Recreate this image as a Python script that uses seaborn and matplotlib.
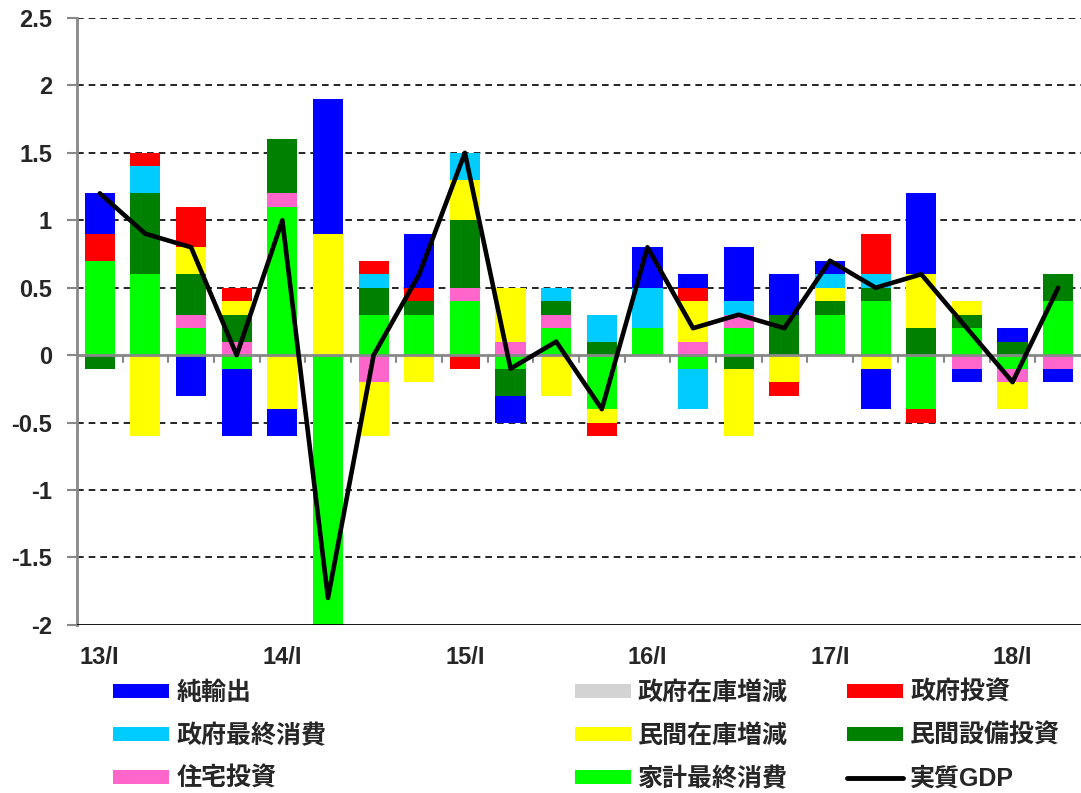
import numpy as np
import pandas as pd
import matplotlib
matplotlib.use("Agg")
import matplotlib.pyplot as plt
import seaborn as sns
from matplotlib.patches import Patch
from matplotlib.lines import Line2D

# quarters 13/I .. 18/II
quarters = [f"{y}/{q}" for y in range(13, 19) for q in ["I", "II", "III", "IV"]][:22]
tick_labels = ["13/I", "14/I", "15/I", "16/I", "17/I", "18/I"]

# contributions (percentage points)
kakei = [0.7, 0.6, 0.2, -0.1, 1.1, -3.7, 0.3, 0.3, 0.4, -0.1, 0.2,
         -0.4, 0.2, -0.1, 0.2, 0.0, 0.3, 0.4, -0.4, 0.2, -0.1, 0.4]
jutaku = [0.0, 0.0, 0.1, 0.1, 0.1, 0.0, -0.2, 0.0, 0.1, 0.1, 0.1,
          0.0, 0.0, 0.1, 0.1, 0.0, 0.0, 0.0, 0.0, -0.1, -0.1, -0.1]
setsubi = [-0.1, 0.6, 0.3, 0.2, 0.4, 0.0, 0.2, 0.1, 0.5, -0.2, 0.1,
           0.1, 0.0, 0.0, -0.1, 0.3, 0.1, 0.1, 0.2, 0.1, 0.1, 0.2]
zaiko = [0.0, -0.6, 0.2, 0.1, -0.4, 0.9, -0.4, -0.2, 0.3, 0.4, -0.3,
         -0.1, 0.0, 0.3, -0.5, -0.2, 0.1, -0.1, 0.4, 0.1, -0.2, 0.0]
seifu_shohi = [0.0, 0.2, 0.0, 0.0, 0.0, 0.0, 0.1, 0.0, 0.2, 0.0, 0.1,
               0.2, 0.3, -0.3, 0.1, 0.0, 0.1, 0.1, 0.0, 0.0, 0.0, 0.0]
seifu_toshi = [0.2, 0.1, 0.3, 0.1, 0.0, 0.0, 0.1, 0.1, -0.1, 0.0, 0.0,
               -0.1, 0.0, 0.1, 0.0, -0.1, 0.0, 0.3, -0.1, 0.0, 0.0, 0.0]
seifu_zaiko = [0.0] * 22
yushutsu = [0.3, 0.0, -0.3, -0.5, -0.2, 1.0, 0.0, 0.4, 0.0, -0.2, 0.0,
            0.0, 0.3, 0.1, 0.4, 0.3, 0.1, -0.3, 0.6, -0.1, 0.1, -0.1]
gdp = [1.2, 0.9, 0.8, 0.0, 1.0, -1.8, 0.0, 0.6, 1.5, -0.1, 0.1,
       -0.4, 0.8, 0.2, 0.3, 0.2, 0.7, 0.5, 0.6, 0.2, -0.2, 0.5]

series = [
    ("家計最終消費", kakei, "#00FF00"),
    ("住宅投資", jutaku, "#FF66CC"),
    ("民間設備投資", setsubi, "#008000"),
    ("民間在庫増減", zaiko, "#FFFF00"),
    ("政府最終消費", seifu_shohi, "#00CCFF"),
    ("政府投資", seifu_toshi, "#FF0000"),
    ("政府在庫増減", seifu_zaiko, "#D3D3D3"),
    ("純輸出", yushutsu, "#0000FF"),
]

df = pd.DataFrame({name: vals for name, vals, _ in series})
df["実質GDP"] = gdp
df["x"] = np.arange(len(quarters))

sns.set_theme(style="white")
plt.rcParams["font.family"] = ["Liberation Sans", "Noto Sans CJK JP", "DejaVu Sans"]
plt.rcParams["font.weight"] = "bold"

fig = plt.figure(figsize=(10.81, 7.93), dpi=100)
ax = fig.add_axes([0.0712, 0.212, 0.9288, 0.7653])

# stacked bars, positives and negatives stacked separately
pos_base = np.zeros(len(df))
neg_base = np.zeros(len(df))
for name, _, color in series:
    v = df[name].to_numpy()
    bottoms = np.where(v >= 0, pos_base, neg_base)
    ax.bar(df["x"], v, bottom=bottoms, width=0.66, color=color,
           edgecolor="none", zorder=2)
    pos_base += np.where(v > 0, v, 0)
    neg_base += np.where(v < 0, v, 0)

sns.lineplot(data=df, x="x", y="実質GDP", color="black", lw=3.3, ax=ax,
             zorder=4, legend=False)

ax.set_xlim(-0.5, 21.5)
ax.set_ylim(-2, 2.5)
yt = np.arange(-2, 2.51, 0.5)
ax.set_yticks(yt)
ax.set_yticklabels([f"{t:g}" for t in yt], fontsize=17, fontweight="bold")
for t in yt:
    if abs(t) > 1e-9 and t > -2:
        ax.axhline(t, color="black", lw=1.2, ls=(0, (4, 3)), zorder=1)
ax.axhline(-2, color="black", lw=2, zorder=3)
ax.axhline(0, color="#888888", lw=2, zorder=3)

ax.set_xticks(np.arange(0, 22, 4))
ax.set_xticklabels(tick_labels, fontsize=17, fontweight="bold")
ax.tick_params(axis="x", length=0, pad=15)
ax.tick_params(axis="y", length=7, width=1.5, color="#888888", left=True,
               direction="out", pad=11)
# small boundary ticks on the zero line
for b in np.arange(0.5, 21.5, 1):
    ax.plot([b, b], [0, -0.05], color="#888888", lw=1.5, zorder=3)

for s in ["top", "right", "bottom"]:
    ax.spines[s].set_visible(False)
ax.spines["left"].set_color("#888888")
ax.spines["left"].set_linewidth(2)
ax.set_xlabel("")
ax.set_ylabel("")

colors = {name: c for name, _, c in series}
cols = [
    ["純輸出", "政府最終消費", "住宅投資"],
    ["政府在庫増減", "民間在庫増減", "家計最終消費"],
    ["政府投資", "民間設備投資", "実質GDP"],
]
xpos = [0.084, 0.511, 0.763]
for col, x0 in zip(cols, xpos):
    handles = []
    for name in col:
        if name == "実質GDP":
            handles.append(Line2D([], [], color="black", lw=3.5))
        else:
            handles.append(Patch(facecolor=colors[name], edgecolor="none"))
    fig.legend(handles, col, loc="upper left", bbox_to_anchor=(x0, 0.170),
               frameon=False, handlelength=2.24, handleheight=0.52,
               handletextpad=0.28, labelspacing=0.76,
               prop={"size": 18, "weight": "bold"})

fig.savefig("out.png", dpi=100)
